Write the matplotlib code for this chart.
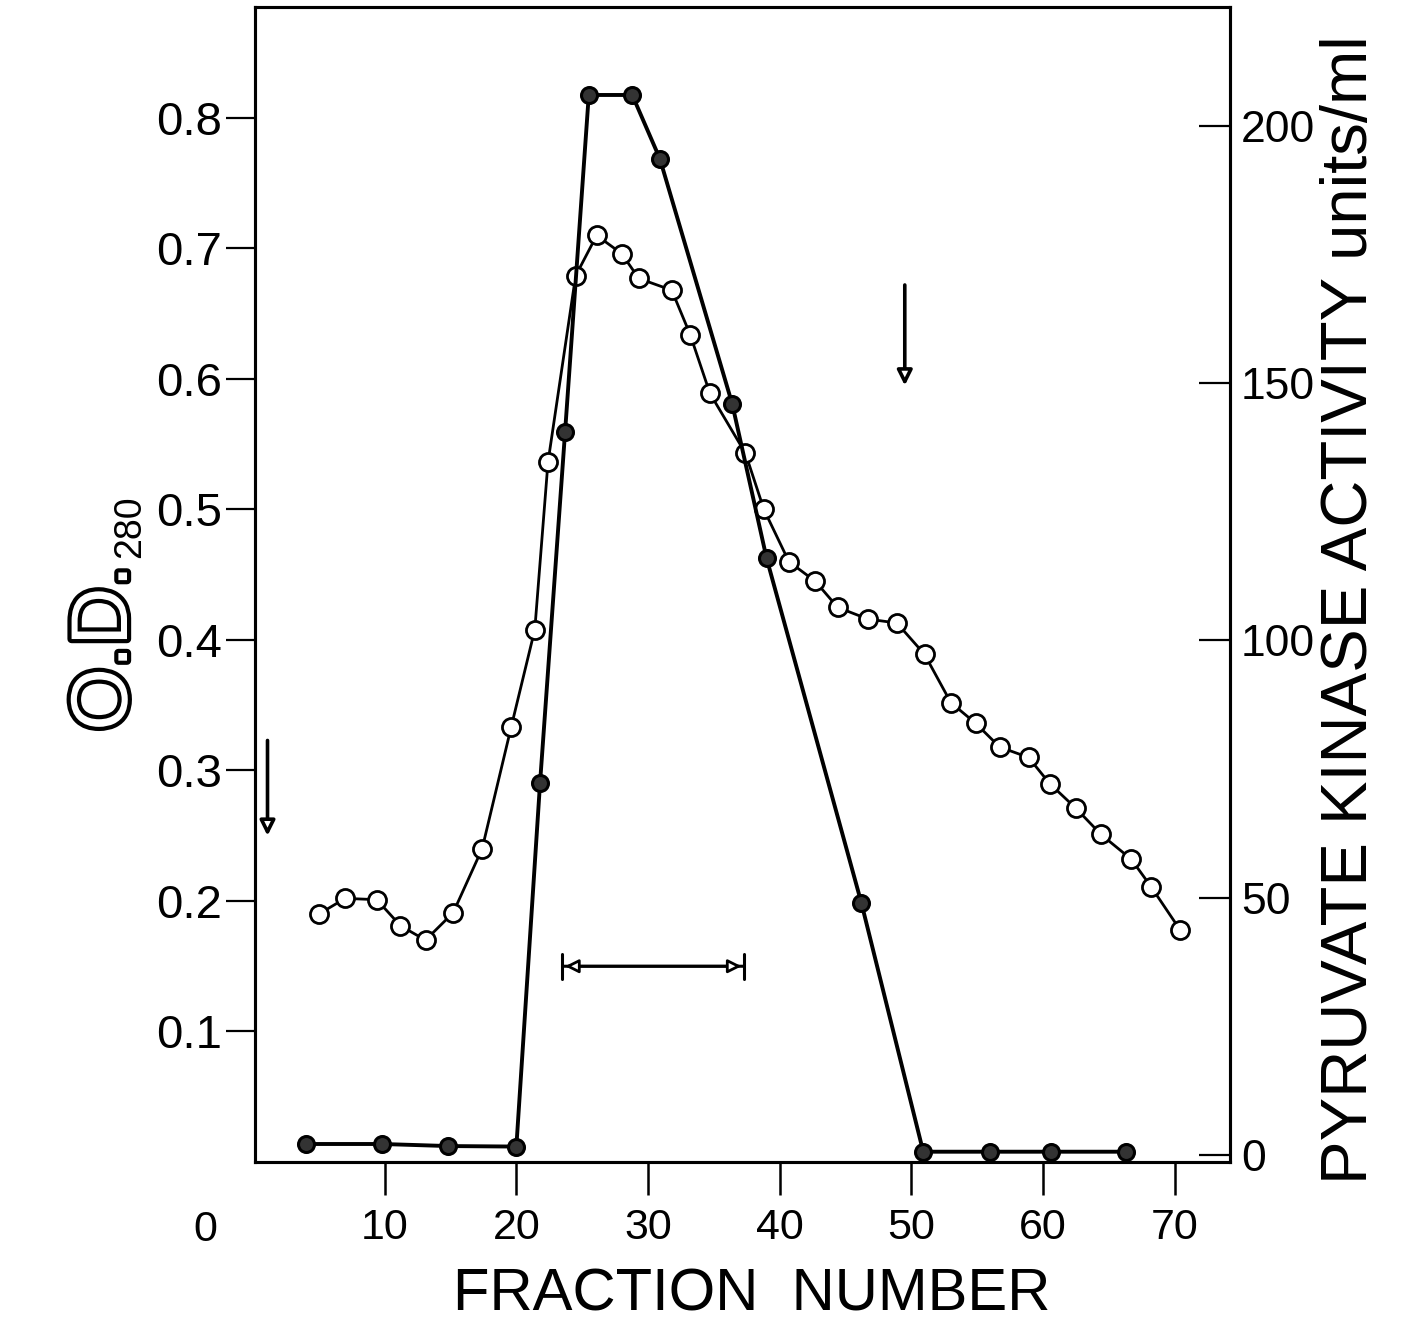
import matplotlib
matplotlib.use("Agg")
import matplotlib.pyplot as plt
import matplotlib.patheffects as pe

plt.rcParams['font.family'] = ['Liberation Sans', 'DejaVu Sans']

# O.D. 280 (open circles, left axis)
od_fraction = [5.0, 7.0, 9.4, 11.2, 13.1, 15.2, 17.4, 19.6, 21.4, 22.4,
               24.5, 26.1, 28.0, 29.3, 31.8, 33.2, 34.7, 37.4, 38.8, 40.7,
               42.7, 44.4, 46.7, 48.9, 51.0, 53.0, 54.9, 56.7, 58.9, 60.5,
               62.5, 64.4, 66.7, 68.2, 70.4]
od_280 = [0.190, 0.202, 0.201, 0.181, 0.170, 0.191, 0.240, 0.333, 0.408, 0.536,
          0.679, 0.710, 0.696, 0.677, 0.668, 0.634, 0.589, 0.543, 0.500, 0.460,
          0.445, 0.425, 0.416, 0.413, 0.389, 0.352, 0.336, 0.318, 0.310, 0.290,
          0.271, 0.251, 0.232, 0.211, 0.178]

# pyruvate kinase activity (closed circles, right axis)
pk_fraction = [4.0, 9.8, 14.8, 20.0, 21.8, 23.7, 25.5, 28.8, 30.9, 36.4,
               39.0, 46.2, 50.9, 56.0, 60.6, 66.3]
pk_activity = [2.1, 2.1, 1.7, 1.6, 72.3, 140.5, 206.0, 206.0, 193.6, 145.9,
               116.0, 49.0, 0.6, 0.6, 0.6, 0.6]

x_ticks = [10, 20, 30, 40, 50, 60, 70]
od_ticks = [0.1, 0.2, 0.3, 0.4, 0.5, 0.6, 0.7, 0.8]
pk_ticks = [0, 50, 100, 150, 200]

# pooled fractions and arrows
pool_start, pool_end, pool_level = 23.5, 37.3, 0.150
arrow_right = (49.5, 0.672, 0.595)
arrow_left = (1.1, 0.323, 0.250)

fig = plt.figure(figsize=(14.05, 13.29), dpi=100)
ax = fig.add_axes([255 / 1405, 1 - 1162 / 1329, 975 / 1405, 1155 / 1329])
ax2 = ax.twinx()

ax.plot(od_fraction, od_280, '-o', color='black', lw=2.0, ms=13,
        mfc='white', mec='black', mew=2.0, zorder=3)
ax2.plot(pk_fraction, pk_activity, '-o', color='black', lw=2.8, ms=11.5,
         mfc='0.2', mec='black', mew=2.2, zorder=4)

ax.set_xlim(0.15, 74.2)
ax.set_ylim(0, 0.885)
ax2.set_ylim(-1.4, 223.1)

for sp in ax.spines.values():
    sp.set_linewidth(2.2)
for sp in ax2.spines.values():
    sp.set_linewidth(2.2)

ax.set_xticks(x_ticks)
ax.set_xticklabels([str(t) for t in x_ticks])
ax.set_yticks(od_ticks)
ax.set_yticklabels([f"{t:.1f}" for t in od_ticks])
ax.tick_params(axis='x', direction='out', length=24, width=1.8, pad=9, labelsize=31)
ax.tick_params(axis='y', direction='out', length=21, width=1.6, pad=3, labelsize=34)
ax2.set_yticks(pk_ticks)
ax2.set_yticklabels([str(t) for t in pk_ticks])
ax2.tick_params(axis='y', direction='in', length=22, width=1.6, pad=8, labelsize=32)

# zero of the fraction scale, written left of the frame
ax.text(-3.6, -0.052, "0", fontsize=31, ha='center', va='center', clip_on=False)

# arrows
ax.annotate("", xy=(pool_start, pool_level), xytext=(pool_end, pool_level),
            arrowprops=dict(arrowstyle='|-|,widthA=0.9,widthB=0.9', lw=2.2, color='black',
                            shrinkA=0, shrinkB=0))
ax.annotate("", xy=(pool_start + 0.2, pool_level), xytext=(pool_end - 0.2, pool_level),
            arrowprops=dict(arrowstyle='<|-|>,head_length=0.8,head_width=0.4', lw=2.0,
                            fc='white', ec='black', shrinkA=0, shrinkB=0))
for xa, y0, y1 in (arrow_right, arrow_left):
    ax.annotate("", xy=(xa, y1), xytext=(xa, y0),
                arrowprops=dict(arrowstyle='-|>,head_length=0.9,head_width=0.45', lw=2.6,
                                fc='white', ec='black', shrinkA=0, shrinkB=0))

# axis titles
fig.text(752 / 1405, 1 - 1295 / 1329, "FRACTION  NUMBER", fontsize=43,
         ha='center', va='center')
fig.text(1350 / 1405, 1 - 610 / 1329, "PYRUVATE KINASE ACTIVITY units/ml",
         fontsize=47, rotation=90, ha='center', va='center')
fig.text(127 / 1405, 1 - 648 / 1329, "O.D.", fontsize=58, rotation=90,
         rotation_mode='anchor', ha='center', va='baseline', color='white',
         path_effects=[pe.withStroke(linewidth=6, foreground='black')])
fig.text(140 / 1405, 1 - 527 / 1329, "280", fontsize=27, rotation=90,
         rotation_mode='anchor', ha='center', va='baseline')

fig.savefig("out.png", dpi=100)
